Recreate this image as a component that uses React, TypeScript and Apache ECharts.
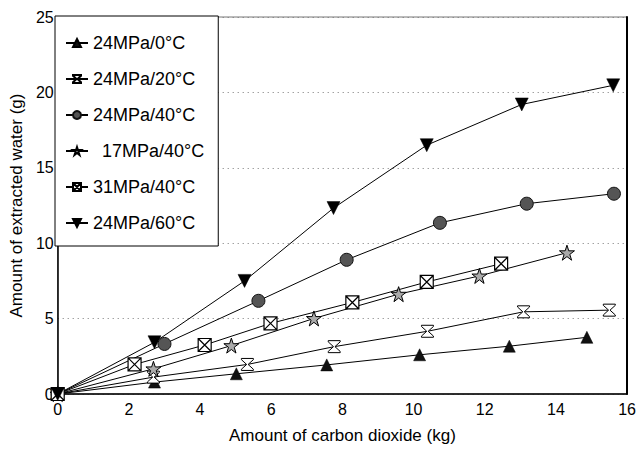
import React, { useEffect, useRef } from "react";
import * as echarts from "echarts";

const seriesNames = ["24MPa/0°C", "24MPa/20°C", "24MPa/40°C", "17MPa/40°C", "31MPa/40°C", "24MPa/60°C"];

const x0C24 = [0, 2.72, 5.02, 7.56, 10.17, 12.69, 14.87];
const y0C24 = [0, 0.79, 1.34, 1.93, 2.6, 3.17, 3.76];

const x20C24 = [0, 2.69, 5.33, 7.77, 10.39, 13.09, 15.5];
const y20C24 = [0, 1.12, 1.96, 3.14, 4.16, 5.45, 5.56];

const x40C24 = [0, 3.0, 5.64, 8.12, 10.74, 13.18, 15.63];
const y40C24 = [0, 3.32, 6.18, 8.9, 11.35, 12.62, 13.28];

const x40C17 = [0, 2.69, 4.88, 7.2, 9.58, 11.85, 14.31];
const y40C17 = [0, 1.67, 3.21, 5.01, 6.62, 7.83, 9.37];

const x40C31 = [0, 2.16, 4.13, 5.98, 8.28, 10.37, 12.46];
const y40C31 = [0, 1.96, 3.25, 4.68, 6.07, 7.43, 8.64];

const x60C24 = [0, 2.72, 5.25, 7.75, 10.37, 13.04, 15.61];
const y60C24 = [0, 3.43, 7.5, 12.33, 16.5, 19.2, 20.47];

const xTicks = [0, 2, 4, 6, 8, 10, 12, 14, 16];
const yTicks = [0, 5, 10, 15, 20, 25];

const FONT = "'Liberation Sans', Arial, Helvetica, sans-serif";

const pairs = (xs: number[], ys: number[]) => xs.map((x, i) => [x, ys[i]]);

const HOURGLASS = "path://M0 0 L10 0 L10 1 L5.6 5 L10 9 L10 10 L0 10 L0 9 L4.4 5 L0 1 Z";
const STAR = "path://M5 0 L6.2 3.6 L10 3.6 L6.9 5.9 L8.1 9.6 L5 7.3 L1.9 9.6 L3.1 5.9 L0 3.6 L3.8 3.6 Z";
const SQX = "path://M0 0 L10 0 L10 10 L0 10 Z M0 0 L10 10 M10 0 L0 10";
const DOWN = "path://M0 0 L10 0 L5 9 Z";

export default function App() {
  const ref = useRef<HTMLDivElement>(null);
  useEffect(() => {
    if (!ref.current) return;
    const chart = echarts.init(ref.current, undefined, { renderer: "svg" });
    const mk = (
      name: string,
      xs: number[],
      ys: number[],
      symbol: string,
      size: number,
      fill: string,
      border: string,
      bw: number
    ) => ({
      name,
      type: "line",
      data: pairs(xs, ys),
      symbol,
      symbolSize: size,
      showAllSymbol: true,
      lineStyle: { color: "#000", width: 1 },
      itemStyle: { color: fill, borderColor: border, borderWidth: bw },
      z: 3,
    });
    chart.setOption({
      animation: false,
      backgroundColor: "#fff",
      grid: {
        left: 55,
        top: 17,
        right: 11,
        bottom: 53,
        show: true,
        borderColor: "#777",
        borderWidth: 1,
      },
      legend: {
        orient: "vertical",
        left: 55,
        top: 16,
        padding: [18, 14, 14, 10],
        itemGap: 18,
        itemWidth: 22,
        itemHeight: 10,
        backgroundColor: "#fff",
        borderColor: "#000",
        borderWidth: 1,
        textStyle: { fontFamily: FONT, fontSize: 18, color: "#000" },
        formatter: (n: string) => (n === "17MPa/40°C" ? "\u2002" + n : n),
        data: seriesNames,
      },
      xAxis: {
        type: "value",
        min: 0,
        max: 16,
        interval: 2,
        name: "Amount of carbon dioxide (kg)",
        nameLocation: "middle",
        nameGap: 33,
        nameTextStyle: { fontFamily: FONT, fontSize: 17, color: "#000" },
        axisLine: { show: true, lineStyle: { color: "#000", width: 1.5 } },
        axisTick: { show: false },
        axisLabel: {
          fontFamily: FONT,
          fontSize: 16,
          color: "#000",
          margin: 7,
          formatter: (v: number) => (xTicks.includes(v) ? String(v) : ""),
        },
        splitLine: { show: false },
      },
      yAxis: [
        {
          type: "value",
          min: 0,
          max: 25,
          interval: 5,
          name: "Amount of extracted water (g)",
          nameLocation: "middle",
          nameGap: 29,
          nameTextStyle: { fontFamily: FONT, fontSize: 17, color: "#000" },
          axisLine: { show: true, lineStyle: { color: "#000", width: 1.5 } },
          axisTick: { show: false },
          axisLabel: {
            fontFamily: FONT,
            fontSize: 16,
            color: "#000",
            margin: 4,
            formatter: (v: number) => (yTicks.includes(v) ? String(v) : ""),
          },
          splitLine: { show: true, lineStyle: { color: "#777", type: [1, 4], width: 1 } },
        },
        {
          type: "value",
          position: "right",
          min: 0,
          max: 25,
          interval: 5,
          axisLine: { show: true, lineStyle: { color: "#000", width: 2 } },
          axisTick: { show: false },
          axisLabel: { show: false },
          splitLine: { show: false },
        },
      ],
      series: [
        mk(seriesNames[0], x0C24, y0C24, "triangle", 12, "#111", "#000", 0.5),
        mk(seriesNames[1], x20C24, y20C24, HOURGLASS, 12, "#fff", "#000", 1),
        mk(seriesNames[2], x40C24, y40C24, "circle", 13, "#555", "#111", 1),
        mk(seriesNames[3], x40C17, y40C17, STAR, 15, "#aaa", "#000", 1),
        mk(seriesNames[4], x40C31, y40C31, SQX, 13, "#fff", "#000", 1.2),
        mk(seriesNames[5], x60C24, y60C24, DOWN, 13, "#000", "#000", 0.5),
      ],
    });
    return () => chart.dispose();
  }, []);
  return <div ref={ref} style={{ width: 639, height: 449, position: "absolute", left: 0, top: 0 }} />;
}
